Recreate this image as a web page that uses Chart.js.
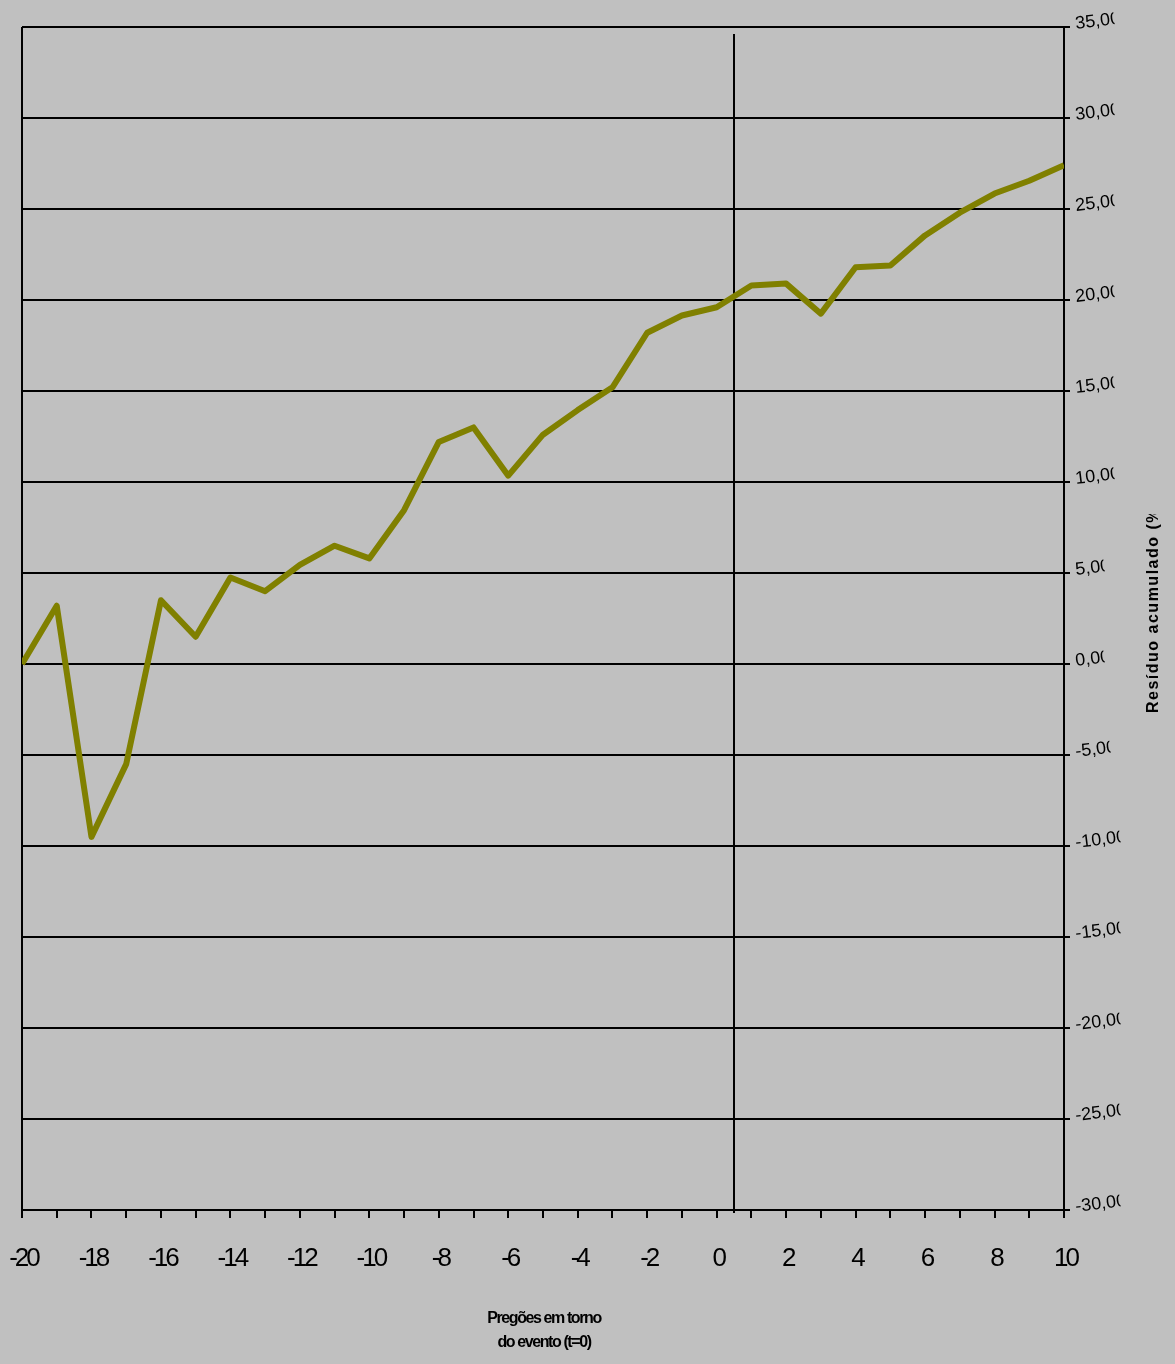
<!DOCTYPE html>
<html>
<head>
<meta charset="utf-8">
<script src="https://cdn.jsdelivr.net/npm/chart.js@4/dist/chart.umd.min.js"></script>
<style>
  body { margin: 0; background: #c0c0c0; }
  #wrap { width: 1175px; height: 1364px; }
</style>
</head>
<body>
<div id="wrap"><canvas id="residChart" width="1175" height="1364"></canvas></div>
<script>
  // Pregões em torno do evento (t=0)
  const days = [-20, -19, -18, -17, -16, -15, -14, -13, -12, -11, -10, -9, -8, -7, -6, -5,
    -4, -3, -2, -1, 0, 1, 2, 3, 4, 5, 6, 7, 8, 9, 10];
  // Resíduo acumulado (%)
  const residuo = [0, 3.2, -9.5, -5.5, 3.5, 1.5, 4.75, 4.0, 5.45, 6.5, 5.8, 8.45, 12.2, 13.0, 10.35, 12.6,
    13.95, 15.2, 18.2, 19.15, 19.6, 20.8, 20.9, 19.25, 21.8, 21.9, 23.55, 24.8, 25.85, 26.55, 27.4];

  const xLabels = [-20, -18, -16, -14, -12, -10, -8, -6, -4, -2, 0, 2, 4, 6, 8, 10];
  const yLabels = [-30, -25, -20, -15, -10, -5, 0, 5, 10, 15, 20, 25, 30, 35];
  const eventLine = 0.5;

  const xTitle = ["Pregões em torno", "do evento (t=0)"];
  const yTitle = "Resíduo acumulado (%)";

  // vertical line at the event
  const eventPlugin = {
    id: 'eventPlugin',
    beforeDatasetsDraw(chart) {
      const { ctx, chartArea, scales: { x } } = chart;
      const px = Math.round(x.getPixelForValue(eventLine));
      ctx.save();
      ctx.strokeStyle = '#000';
      ctx.lineWidth = 2;
      ctx.beginPath();
      ctx.moveTo(px, chartArea.top + 7);
      ctx.lineTo(px, chartArea.bottom + 3);
      ctx.stroke();
      ctx.restore();
    }
  };

  // tick labels and titles, drawn by hand to get the tilt / clipping / tight spacing
  const textPlugin = {
    id: 'textPlugin',
    afterDraw(chart) {
      const { ctx, chartArea, scales: { x, y } } = chart;
      ctx.save();
      ctx.fillStyle = '#000';

      // y labels, tilted and cut off on the right
      ctx.font = '18px "Liberation Sans", Arial, sans-serif';
      ctx.textAlign = 'left';
      ctx.textBaseline = 'alphabetic';
      yLabels.forEach(v => {
        const label = v.toFixed(2).replace('.', ',');
        const py = y.getPixelForValue(v);
        const w = ctx.measureText(label).width;
        ctx.save();
        ctx.translate(chartArea.right + 12, py + 2);
        ctx.rotate(-7 * Math.PI / 180);
        ctx.beginPath();
        ctx.rect(-2, -30, w - 4, 40);
        ctx.clip();
        ctx.fillText(label, 0, 0);
        ctx.restore();
      });

      // x labels
      ctx.font = '26px "Liberation Sans", Arial, sans-serif';
      ctx.letterSpacing = '-3px';
      ctx.textAlign = 'center';
      xLabels.forEach(v => {
        ctx.fillText(String(v), x.getPixelForValue(v) + 1.5, chartArea.bottom + 56);
      });

      // x title
      ctx.font = 'bold 16px "Liberation Sans", Arial, sans-serif';
      ctx.letterSpacing = '-1.4px';
      const cx = (chartArea.left + chartArea.right) / 2 + 1;
      ctx.fillText(xTitle[0], cx, chartArea.bottom + 113);
      ctx.fillText(xTitle[1], cx, chartArea.bottom + 137);

      // y title, rotated and cut at the top
      ctx.font = 'bold 16px "Liberation Sans", Arial, sans-serif';
      ctx.letterSpacing = '1.5px';
      ctx.textAlign = 'left';
      ctx.save();
      ctx.translate(1158, 713);
      ctx.rotate(-Math.PI / 2);
      ctx.beginPath();
      ctx.rect(0, -30, 199, 40);
      ctx.clip();
      ctx.fillText(yTitle, 0, 0);
      ctx.restore();

      ctx.restore();
    }
  };

  const ctx = document.getElementById('residChart').getContext('2d');
  new Chart(ctx, {
    type: 'line',
    data: {
      datasets: [{
        label: yTitle,
        data: days.map((d, i) => ({ x: d, y: residuo[i] })),
        borderColor: '#808000',
        borderWidth: 6,
        borderJoinStyle: 'round',
        pointRadius: 0,
        tension: 0,
        fill: false
      }]
    },
    options: {
      responsive: false,
      devicePixelRatio: 1,
      animation: false,
      layout: { padding: { left: 22, top: 27, right: 0, bottom: 0 } },
      plugins: {
        legend: { display: false },
        tooltip: { enabled: false }
      },
      scales: {
        x: {
          type: 'linear',
          min: -20,
          max: 10,
          afterBuildTicks: s => { s.ticks = days.map(v => ({ value: v })); },
          afterFit: s => { s.height = 154; },
          ticks: { display: false },
          grid: {
            drawOnChartArea: true,
            color: c => (c.tick && c.tick.value === -20) ? '#000' : 'rgba(0,0,0,0)',
            tickColor: '#000',
            lineWidth: 2,
            tickLength: 8
          },
          border: { display: true, color: '#000', width: 2 }
        },
        y: {
          position: 'right',
          min: -30,
          max: 35,
          afterBuildTicks: s => { s.ticks = yLabels.map(v => ({ value: v })); },
          afterFit: s => { s.width = 111; },
          ticks: { display: false },
          grid: {
            color: '#000',
            tickColor: '#000',
            lineWidth: 2,
            tickLength: 6
          },
          border: { display: true, color: '#000', width: 2 }
        }
      }
    },
    plugins: [eventPlugin, textPlugin]
  });
</script>
</body>
</html>
